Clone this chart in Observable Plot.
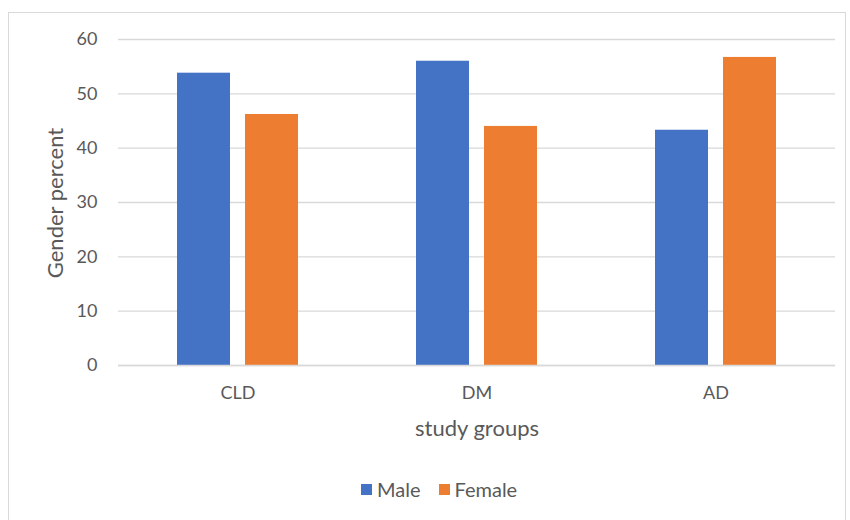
<!DOCTYPE html>
<html><head><meta charset="utf-8">
<script src="https://cdn.jsdelivr.net/npm/d3@7"></script>
<script src="https://cdn.jsdelivr.net/npm/@observablehq/plot@0.6"></script>
<style>
body{margin:0;background:#fff;font-family:Lato,"Open Sans",sans-serif}
#wrap{position:relative;width:850px;height:520px;overflow:hidden;background:#fff}
#border{position:absolute;left:8px;top:12px;width:838px;height:512px;border:1.5px solid #d9d9d9;box-sizing:border-box}
#chart{position:absolute;left:0;top:0}
.title{position:absolute;color:#595959;font-size:22px;font-family:Lato,sans-serif;white-space:nowrap;line-height:1}
#ytitle{left:55px;top:203px;transform:translate(-50%,-50%) rotate(-90deg)}
#xtitle{left:477px;top:428px;transform:translate(-50%,-50%)}
#legend{position:absolute;top:479px;left:361px;display:flex;align-items:center;font-size:20px;color:#595959;font-family:Lato,sans-serif;line-height:1}
.sw{display:inline-block;width:11px;height:11px;margin-right:5px}
.item{display:flex;align-items:center;margin-right:18px}
</style></head>
<body>
<div id="wrap"><div id="border"></div><div id="chart"></div>
<div id="ytitle" class="title">Gender percent</div>
<div id="xtitle" class="title">study groups</div>
<div id="legend"></div></div>
<script>
const groups = ["CLD", "DM", "AD"];
const sexes = ["Male", "Female"];
const male = [53.8, 56.0, 43.3];
const female = [46.2, 44.0, 56.7];
const yTicks = [0, 10, 20, 30, 40, 50, 60];
const colors = ["#4472C4", "#ED7D31"];

const rows = [];
groups.forEach((g, i) => {
  rows.push({group: g, sex: "Male", value: male[i]});
  rows.push({group: g, sex: "Female", value: female[i]});
});

const plot = Plot.plot({
  width: 850,
  height: 470,
  marginTop: 39,
  marginBottom: 105,
  marginLeft: 118,
  marginRight: 15,
  style: {fontFamily: "Lato, sans-serif", fontSize: "18px", color: "#595959", background: "transparent"},
  fx: {domain: groups, padding: 0},
  x: {domain: sexes, paddingInner: 0.22, paddingOuter: 0.867, axis: null},
  y: {domain: [0, 60], ticks: yTicks},
  color: {domain: sexes, range: colors},
  marks: [
    Plot.gridY(yTicks, {stroke: "#d9d9d9", strokeOpacity: 1, strokeWidth: 1.3}),
    Plot.axisY(yTicks, {tickSize: 0, tickPadding: 21, label: null, fill: "#595959"}),
    Plot.axisFx({anchor: "bottom", tickSize: 0, tickPadding: 21, label: null, fill: "#595959"}),
    Plot.barY(rows, {fx: "group", x: "sex", y: "value", fill: "sex"}),
    Plot.ruleY([0], {stroke: "#d9d9d9", strokeWidth: 1.5})
  ]
});
document.getElementById("chart").appendChild(plot);

const legend = document.getElementById("legend");
sexes.forEach((s, i) => {
  const item = document.createElement("span");
  item.className = "item";
  const sw = document.createElement("span");
  sw.className = "sw";
  sw.style.background = colors[i];
  item.appendChild(sw);
  item.appendChild(document.createTextNode(s));
  legend.appendChild(item);
});
</script>
</body></html>
